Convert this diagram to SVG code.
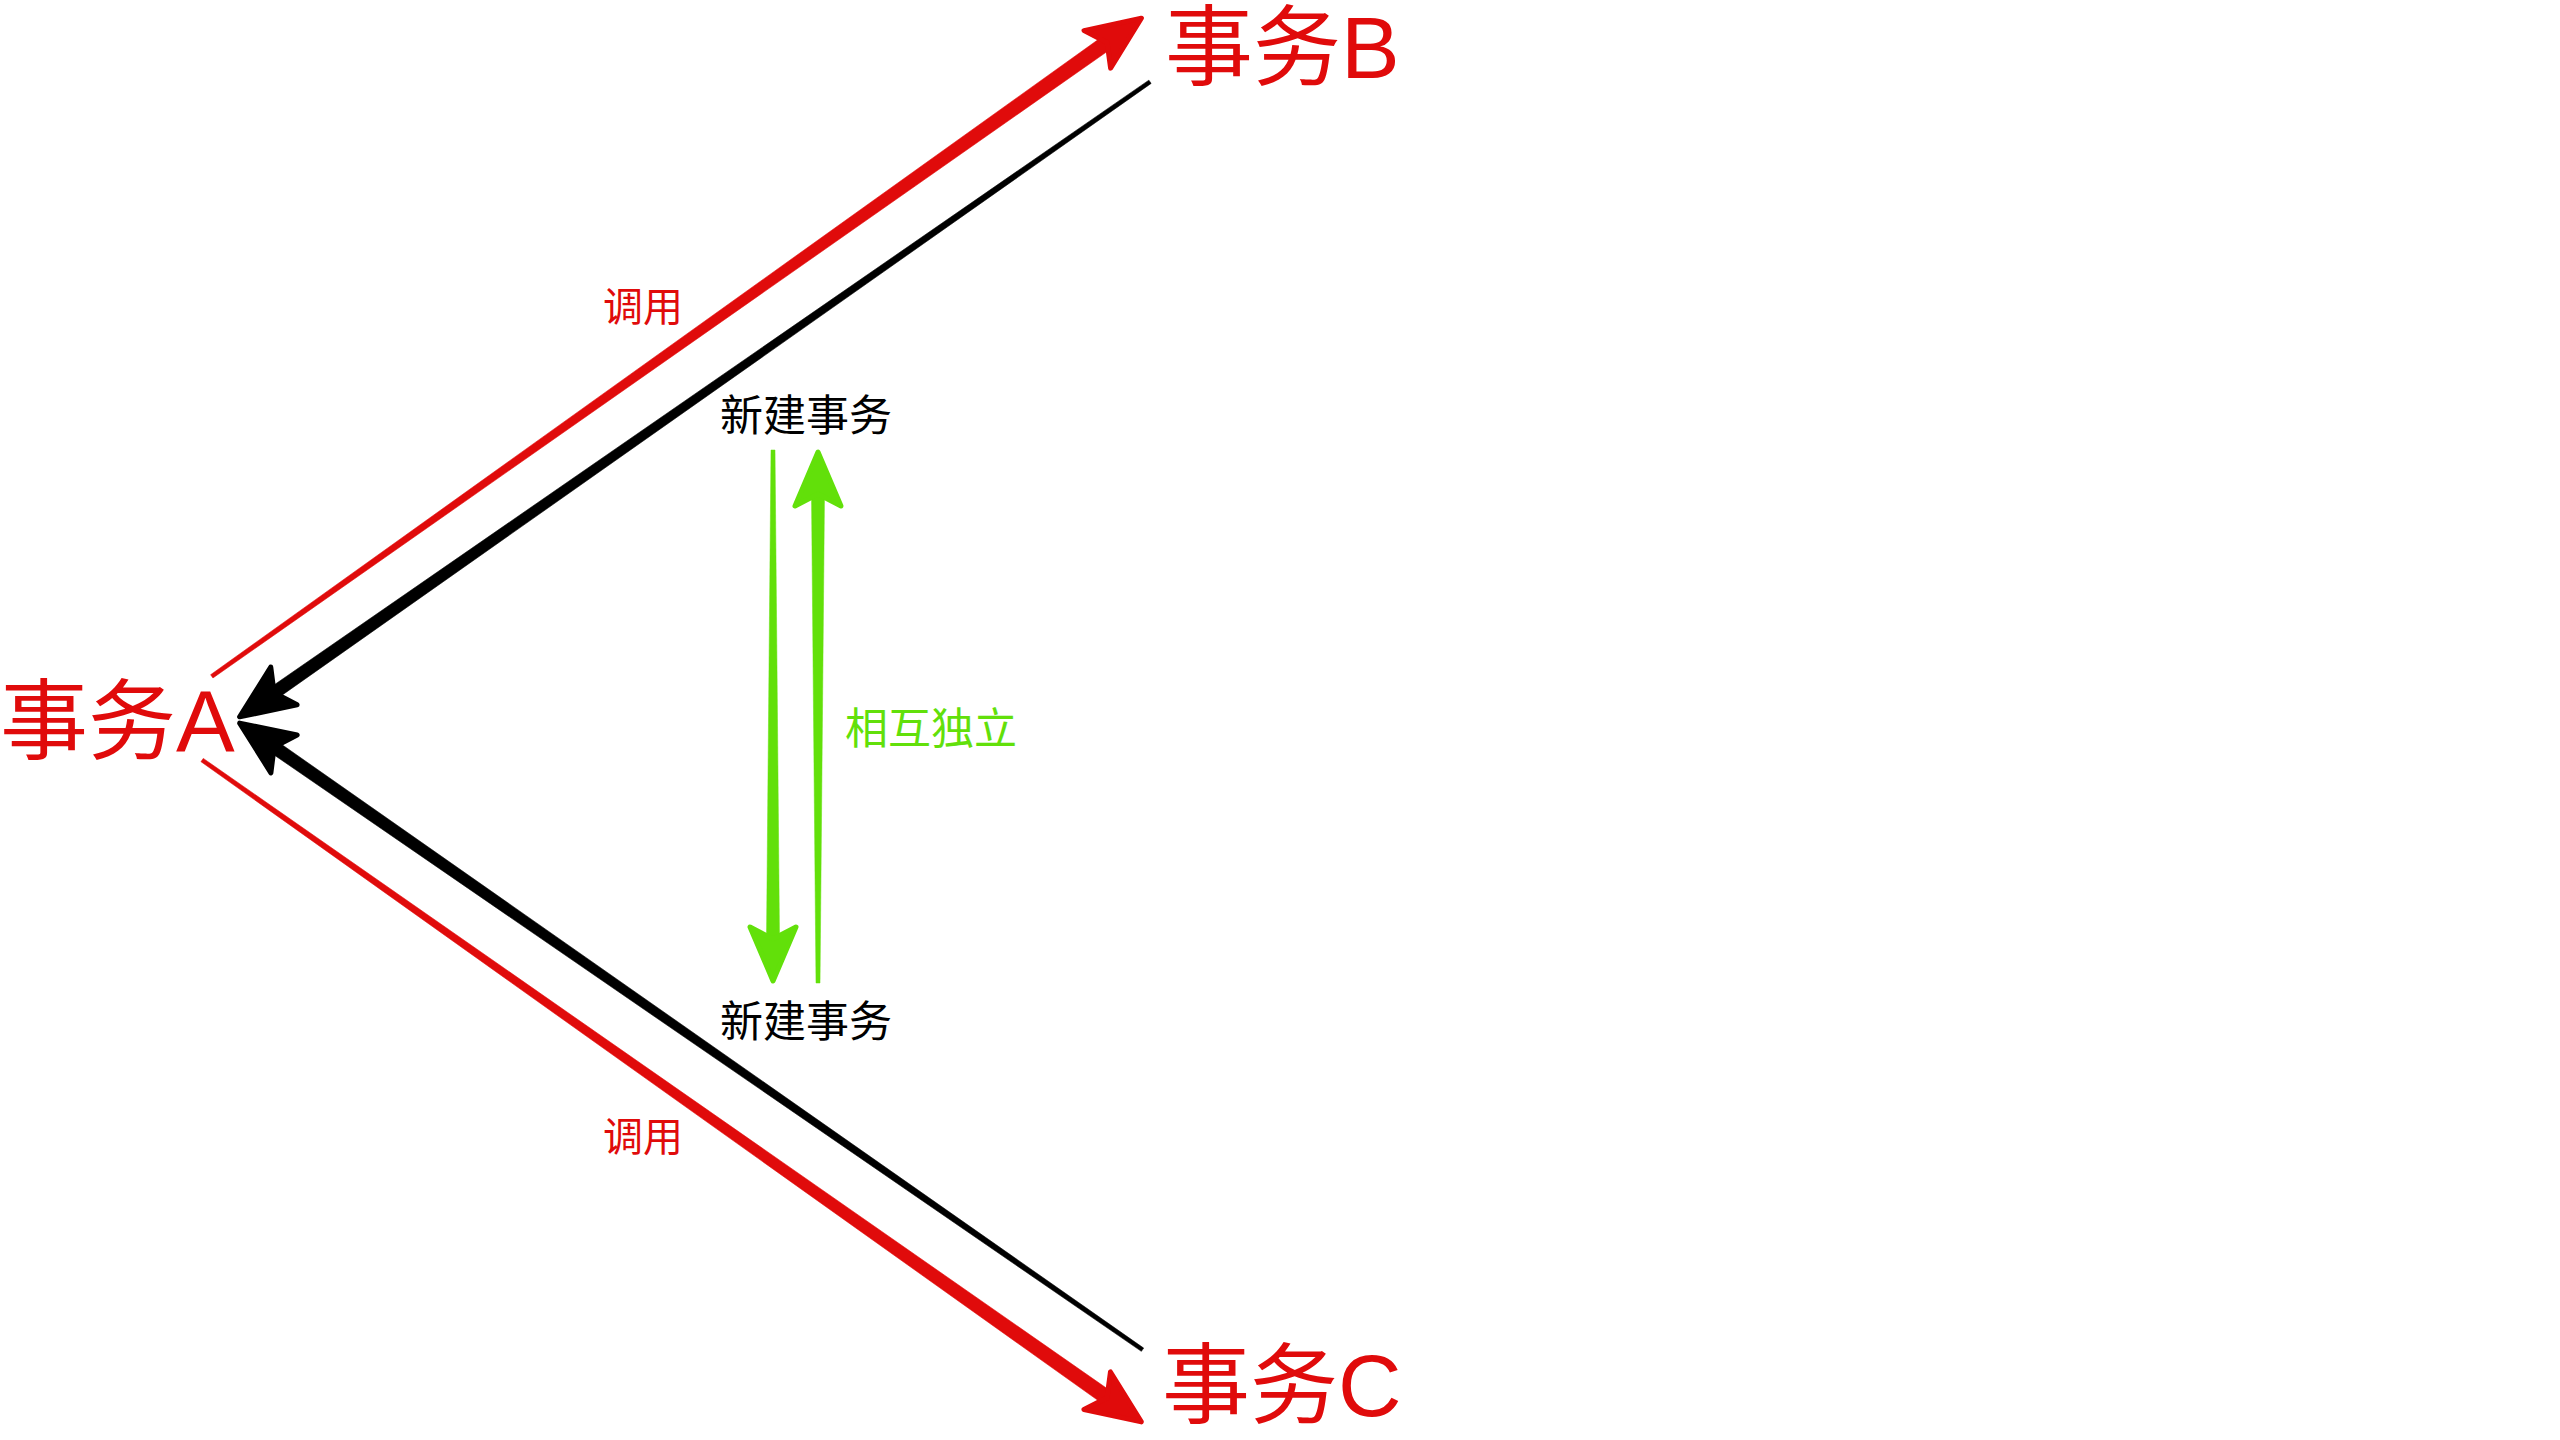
<svg xmlns="http://www.w3.org/2000/svg" xmlns:xlink="http://www.w3.org/1999/xlink" width="2560" height="1440" viewBox="0 0 2560 1440">
<style>
.t{font-family:"Liberation Sans","Noto Sans CJK SC",sans-serif}
.big{font-size:88px;fill:#E00B0B}
.mid{font-size:43px;fill:#000}
.lbl-red{font-size:40px;fill:#E00B0B}
.lbl-green{font-size:43px;fill:#62E00A}
.red{fill:#E00B0B;stroke:#E00B0B}
.blk{fill:#000;stroke:#000}
.grn{fill:#62E00A;stroke:#62E00A}
.shaft{stroke-width:0.5}
.head{stroke-width:5;stroke-linejoin:round}
</style>
<defs>
<path id="head" d="M-2,0 L-56,-23 L-44,0 L-56,23 Z"/>
</defs>
<rect width="2560" height="1440" fill="#fff"/>
<g id="connectors">
  <g id="edge-A-B" class="red" transform="translate(1143,17) rotate(-35.3)">
    <polygon class="shaft" points="-1141,-2 -44,-7.5 -44,7.5 -1141,2"/>
    <use xlink:href="#head" class="head"/>
  </g>
  <g id="edge-B-A" class="blk" transform="translate(238,718) rotate(145.1)">
    <polygon class="shaft" points="-1112,-2 -44,-6.5 -44,6.5 -1112,2"/>
    <use xlink:href="#head" class="head"/>
  </g>
  <g id="edge-A-C" class="red" transform="translate(1143,1423) rotate(35.17)">
    <polygon class="shaft" points="-1151,-2 -44,-7.5 -44,7.5 -1151,2"/>
    <use xlink:href="#head" class="head"/>
  </g>
  <g id="edge-C-A" class="blk" transform="translate(238,722) rotate(-145.24)">
    <polygon class="shaft" points="-1101,-2 -44,-6.5 -44,6.5 -1101,2"/>
    <use xlink:href="#head" class="head"/>
  </g>
  <g id="edge-new1-new2" class="grn" transform="translate(773,983) rotate(90)">
    <polygon class="shaft" points="-533,-2 -44,-6.5 -44,6.5 -533,2"/>
    <use xlink:href="#head" class="head"/>
  </g>
  <g id="edge-new2-new1" class="grn" transform="translate(818,450) rotate(-90)">
    <polygon class="shaft" points="-533,-2 -44,-6.5 -44,6.5 -533,2"/>
    <use xlink:href="#head" class="head"/>
  </g>
  <text class="t lbl-red" x="603" y="321">调用</text>
  <text class="t lbl-red" x="603" y="1151">调用</text>
  <text class="t lbl-green" x="845" y="744">相互独立</text>
</g>
<g id="node-A"><text class="t big" x="0" y="752">事务A</text></g>
<g id="node-B"><text class="t big" x="1165" y="78">事务B</text></g>
<g id="node-C"><text class="t big" x="1162" y="1416">事务C</text></g>
<g id="node-new-top"><text class="t mid" x="720" y="431">新建事务</text></g>
<g id="node-new-bottom"><text class="t mid" x="720" y="1037">新建事务</text></g>
</svg>
